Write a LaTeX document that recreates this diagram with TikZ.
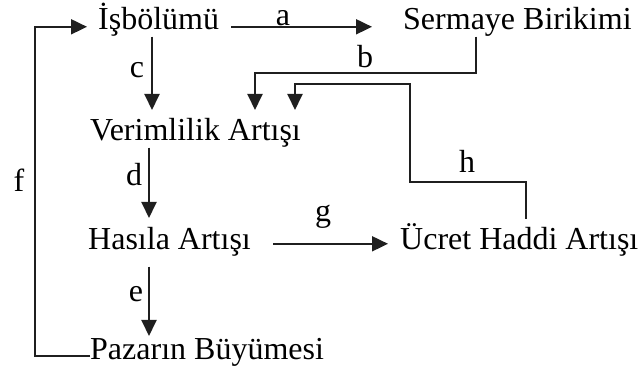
\documentclass[tikz,border=0pt]{standalone}
\usepackage{fontspec}
\setmainfont{Liberation Serif}
\usetikzlibrary{arrows.meta,calc}
\begin{document}
\begin{tikzpicture}[x=1pt,y=-1pt,
  txt/.style={anchor=base west,inner sep=0pt,text height=20.8pt,text depth=6.4pt,
    font=\fontsize{32}{38}\selectfont},
  lbl/.style={anchor=base,inner sep=0pt,font=\fontsize{32}{38}\selectfont},
  conn/.style={line width=1.9pt,draw=black!88},
  arr/.style={conn,-{Triangle[length=16pt,width=15pt]}}]
\useasboundingbox (0,0) rectangle (641,374);
\node[txt] (isb) at (98,30) {İşbölümü};
\node[txt] (serm) at (403,30) {Sermaye Birikimi};
\node[txt] (ver) at (90,141) {Verimlilik Artışı};
\node[txt] (has) at (88,250) {Hasıla Artışı};
\node[txt] (ucr) at (400,250) {Ücret Haddi Artışı};
\node[txt] (paz) at (90,360) {Pazarın Büyümesi};
\coordinate (cx) at (152,0);
\coordinate (dx) at (149,0);
\coordinate (bx) at (476,0);
\coordinate (bl) at (255,0);
\coordinate (hx) at (526,0);
\coordinate (hm) at (410,0);
\coordinate (hl) at (295,0);
\coordinate (fx) at (35,0);
\coordinate (fin) at ([yshift=-4pt]isb.west);
% a
\draw[arr] ([xshift=12pt,yshift=-4pt]isb.east) -- ([xshift=-31pt,yshift=-4pt]serm.west);
% c
\draw[arr,shorten >=10pt] (isb.south -| cx) -- (ver.north -| cx);
% d
\draw[arr,shorten >=11pt] (ver.south -| dx) -- (has.north -| dx);
% e
\draw[arr,shorten <=10pt,shorten >=3pt] (has.south -| dx) -- (paz.north -| dx);
% g
\draw[arr] ([xshift=22pt,yshift=-1pt]has.east) -- ([xshift=-12pt,yshift=-1pt]ucr.west);
% b
\draw[arr,shorten >=10pt] (serm.south -| bx) -- ++(0,36) -| (ver.north -| bl);
% h
\draw[arr,shorten <=10pt,shorten >=10pt] (ucr.north -| hx) -- ++(0,-47) -| ($(ver.north -| hm)+(0,-36)$) -| (ver.north -| hl);
% f
\draw[arr,shorten >=11pt] ([yshift=-3pt]paz.west) -| (fx |- fin) -- (fin);
% labels
\node[lbl] (la) at (283,26) {a};
\node[lbl] (lb) at (365,68) {b};
\node[lbl] (lc) at (137,78) {c};
\node[lbl] (ld) at (134,186) {d};
\node[lbl] (le) at (136,302) {e};
\node[lbl] (lf) at (19,192) {f};
\node[lbl] (lg) at (323,222) {g};
\node[lbl] (lh) at (467,173) {h};
\end{tikzpicture}
\end{document}
